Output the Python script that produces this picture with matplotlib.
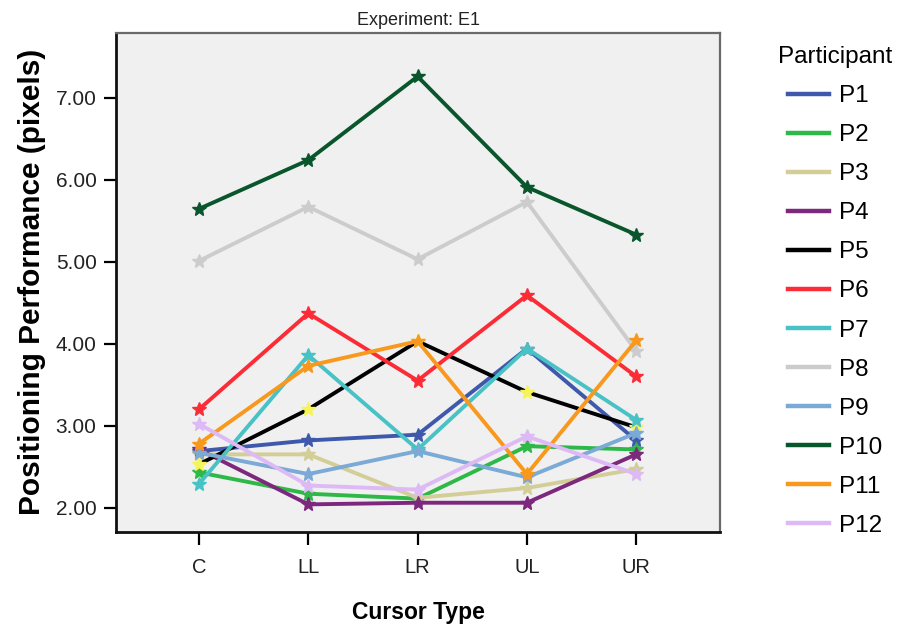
import matplotlib
matplotlib.use("Agg")
import matplotlib.pyplot as plt
from matplotlib.ticker import FormatStrFormatter

plt.rcParams['font.family'] = ['Liberation Sans', 'DejaVu Sans']

cursor_types = ['C', 'LL', 'LR', 'UL', 'UR']
participants = ['P1', 'P2', 'P3', 'P4', 'P5', 'P6', 'P7', 'P8', 'P9', 'P10', 'P11', 'P12']

p1 = [2.69, 2.82, 2.89, 3.94, 2.82]
p2 = [2.43, 2.17, 2.11, 2.75, 2.71]
p3 = [2.65, 2.65, 2.12, 2.24, 2.47]
p4 = [2.71, 2.04, 2.06, 2.06, 2.65]
p5 = [2.53, 3.20, 4.03, 3.41, 2.98]
p6 = [3.20, 4.37, 3.55, 4.59, 3.60]
p7 = [2.29, 3.86, 2.71, 3.94, 3.07]
p8 = [5.01, 5.67, 5.03, 5.73, 3.91]
p9 = [2.67, 2.41, 2.69, 2.37, 2.91]
p10 = [5.645, 6.24, 7.26, 5.91, 5.33]
p11 = [2.78, 3.73, 4.03, 2.41, 4.04]
p12 = [3.02, 2.27, 2.22, 2.87, 2.41]
series = [p1, p2, p3, p4, p5, p6, p7, p8, p9, p10, p11, p12]

colors = ['#3e58ac', '#2eb848', '#d3ce97', '#7c287d', '#000000', '#fb2c36',
          '#48c2c5', '#cccccc', '#7aaad5', '#0a562c', '#f8981d', '#ddb9f5']
marker_colors = list(colors)
marker_colors[4] = '#f5f55a'  # P5 has yellow stars

fig = plt.figure(figsize=(9.02, 6.31), dpi=100)
ax = fig.add_axes([0.1286, 0.1574, 0.670, 0.7903])
ax.set_facecolor('#f0f0f0')

x = list(range(len(cursor_types)))
for name, vals, c, mc in zip(participants, series, colors, marker_colors):
    ax.plot(x, vals, color=c, lw=2.8, marker='*', markersize=10,
            markerfacecolor=mc, markeredgecolor=mc, label=name)

ax.set_xlim(-0.76, 4.77)
ax.set_ylim(1.707, 7.79)
ax.set_xticks(x)
ax.set_xticklabels(cursor_types)
ax.set_yticks([2, 3, 4, 5, 6, 7])
ax.yaxis.set_major_formatter(FormatStrFormatter('%.2f'))
ax.tick_params(axis='both', direction='out', length=9, width=1.6,
               labelcolor='#222222')
ax.tick_params(axis='y', labelsize=15, pad=5)
ax.tick_params(axis='x', labelsize=14.5, pad=10)

for side in ['left', 'bottom']:
    ax.spines[side].set_linewidth(2)
    ax.spines[side].set_color('#111111')
for side in ['top', 'right']:
    ax.spines[side].set_linewidth(1.6)
    ax.spines[side].set_color('#6a6a6a')

ax.set_xlabel('Cursor Type', fontsize=16.5, fontweight='bold', labelpad=17)
ax.set_ylabel('Positioning Performance (pixels)', fontsize=21.5, fontweight='bold', labelpad=7)
ax.set_title('Experiment: E1', fontsize=13, color='#222222', pad=6)

handles = [plt.Line2D([], [], color=c, lw=3.2) for c in colors]
leg = fig.legend(handles, participants, title='Participant', loc='upper center',
                 bbox_to_anchor=(0.926, 0.942), frameon=False, fontsize=17.5,
                 title_fontsize=17.5, handlelength=1.7, handletextpad=0.4,
                 labelspacing=0.7, borderaxespad=0)

fig.savefig('out.png', dpi=100)
